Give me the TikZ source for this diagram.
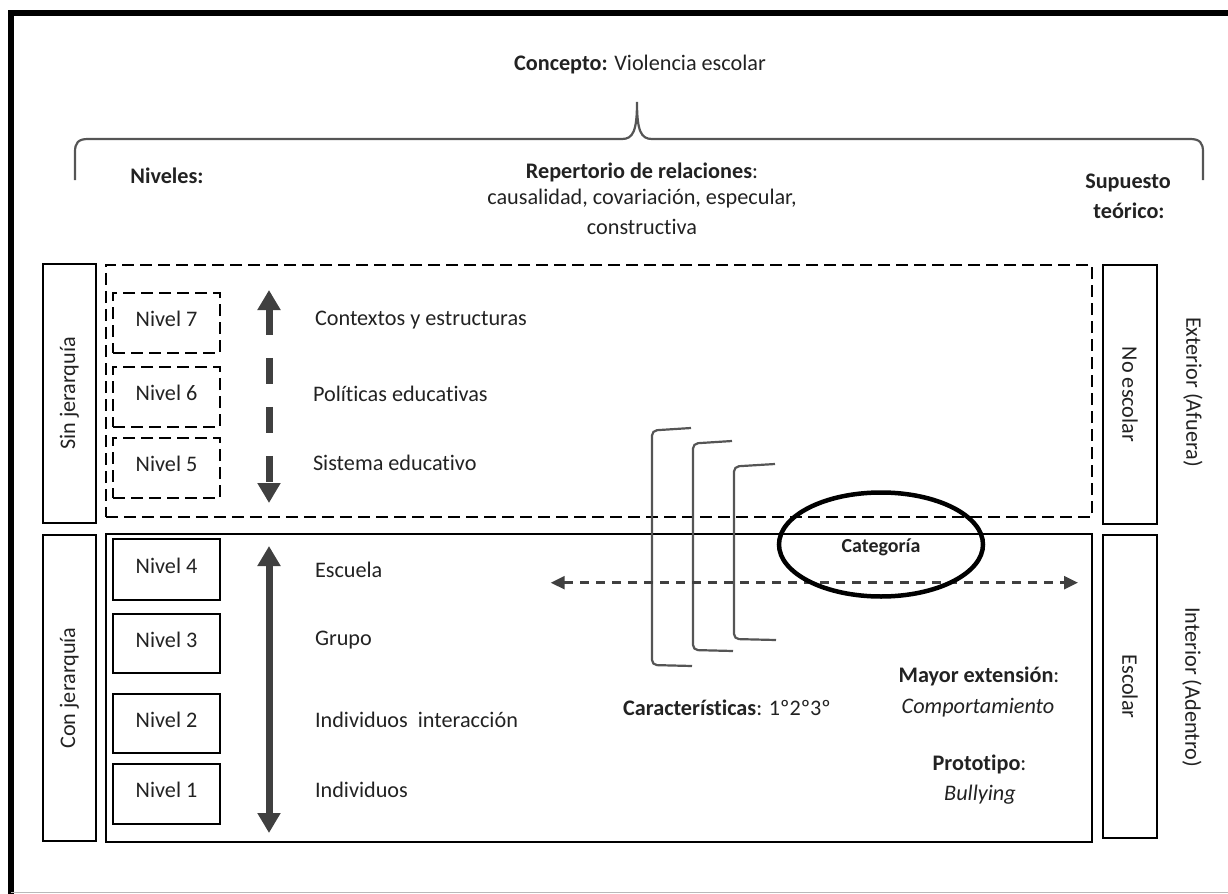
\documentclass[tikz,border=0pt]{standalone}
\usepackage{fontspec}
\setmainfont{Carlito}[Ligatures=NoCommon]
\usetikzlibrary{arrows.meta,shapes.geometric}
\definecolor{ink}{HTML}{222222}
\definecolor{arrowgray}{HTML}{404040}
\definecolor{bracegray}{HTML}{555555}
\begin{document}
\begin{tikzpicture}[x=1bp,y=-1bp,
  every node/.style={inner sep=0pt, outer sep=0pt, text=ink, font=\fontsize{22.3}{26}\selectfont},
  box/.style={draw=black, line width=2.6bp},
  dbox/.style={draw=black, line width=2.4bp, dash pattern=on 12bp off 6bp},
  lvl/.style={minimum width=107bp, minimum height=60bp, text height=14bp, text depth=7bp},
  lbl/.style={anchor=west},
  vlbl/.style={rotate=90},
  rlbl/.style={rotate=-90},
  bigarrow/.style={draw=arrowgray, line width=7bp, {Triangle[width=22bp,length=20bp]}-{Triangle[width=22bp,length=20bp]}},
  harrow/.style={draw=arrowgray, line width=2.6bp, dash pattern=on 9bp off 7bp, {Triangle[width=13bp,length=14bp]}-{Triangle[width=13bp,length=14bp]}},
  bracket/.style={draw=bracegray, line width=2.2bp, rounded corners=5bp},
  catell/.style={draw=black, ellipse, line width=4.5bp, minimum width=204bp, minimum height=104bp}
]
\useasboundingbox (0,0) rectangle (1228,894);
% frame
\draw[black, line width=6bp] (8,13) -- (1228,13);
\draw[black, line width=6bp] (11,10) -- (11,894);
\draw[gray!55, line width=1.5bp] (11,892.5) -- (1228,892.5);

% title and brace
\node (concepto) at (640,65) {\textbf{Concepto:} Violencia escolar};
\draw[draw=bracegray, line width=2.2bp] (75,180) -- (75,152) .. controls (75,143) and (78,139) .. (88,139)
  -- (622,139) .. controls (633,139) and (637,131) .. (637,102)
  .. controls (637,131) and (641,139) .. (652,139)
  -- (1190,139) .. controls (1200,139) and (1203,143) .. (1203,152) -- (1203,180);

\node[font=\fontsize{22.3}{26}\selectfont\bfseries] (niveles) at (167,176) {Niveles:};
\node (rep1) at (642,172) {\textbf{Repertorio de relaciones}:};
\node (rep2) at (642,199) {causalidad, covariación, especular,};
\node (rep3) at (642,227) {constructiva};
\node[font=\fontsize{22.3}{26}\selectfont\bfseries] (sup1) at (1128,183) {Supuesto};
\node[font=\fontsize{22.3}{26}\selectfont\bfseries] (sup2) at (1129,211) {teórico:};

% side boxes
\node[box, minimum width=53bp, minimum height=259bp] (sinbox) at (69.3,393.5) {};
\node[vlbl] (sinlbl) at (sinbox.center) {Sin jerarquía};
\node[box, minimum width=53bp, minimum height=306bp] (conbox) at (69.3,688) {};
\node[vlbl] (conlbl) at (conbox.center) {Con jerarquía};
\node[box, minimum width=54bp, minimum height=259bp] (noesc) at (1130,394.5) {};
\node[rlbl] (noesclbl) at (noesc.center) {No escolar};
\node[box, minimum width=54bp, minimum height=303bp] (esc) at (1130,686.5) {};
\node[rlbl] (esclbl) at (esc.center) {Escolar};
\node[rlbl] (exterior) at (1193,392) {Exterior (Afuera)};
\node[rlbl] (interior) at (1192,687) {Interior (Adentro)};

% main regions
\node[dbox, minimum width=986bp, minimum height=252bp] (outer) at (599,391) {};
\node[box, minimum width=986bp, minimum height=308bp] (inner) at (599,688) {};

% level boxes
\node[dbox, lvl] (n7) at (166.5,323) {Nivel 7};
\node[dbox, lvl] (n6) at (166.5,397) {Nivel 6};
\node[dbox, lvl] (n5) at (166.5,468) {Nivel 5};
\node[box, lvl, minimum height=61bp] (n4) at (166.5,569.5) {Nivel 4};
\node[box, lvl, minimum height=59bp] (n3) at (166.5,643.5) {Nivel 3};
\node[box, lvl, minimum height=59bp] (n2) at (166.5,723.5) {Nivel 2};
\node[box, lvl] (n1) at (166.5,794) {Nivel 1};

% level labels
\node[lbl] (l7) at (315,320) {Contextos y estructuras};
\node[lbl] (l6) at (313,394) {Políticas educativas};
\node[lbl] (l5) at (313,463) {Sistema educativo};
\node[lbl] (l4) at (315,570) {Escuela};
\node[lbl] (l3) at (315,640) {Grupo};
\node[lbl] (l2) at (315,720) {Individuos~ interacción};
\node[lbl] (l1) at (315,790) {Individuos};

% vertical arrows
\coordinate (uptop) at (269,290);
\coordinate (upbot) at (269,503);
\coordinate (lotop) at (269,546);
\coordinate (lobot) at (269,833);
\draw[bigarrow, dash pattern=on 26bp off 23bp] (uptop) -- (upbot);
\draw[bigarrow] (lotop) -- (lobot);

% brackets
\draw[bracket] (691,428) -- (652,430.5) -- (652,665) -- (692,666);
\draw[bracket] (732,441) -- (693,443.5) -- (693,650) -- (733,651);
\draw[bracket] (775,464) -- (734,466.5) -- (734,639) -- (776,640);

% horizontal dashed arrow
\coordinate (hl) at (550.7,582.7);
\coordinate (hr) at (1078,582.7);
\draw[harrow] (hl) -- (hr);

% category ellipse
\node[catell] (cat) at (881,544.5) {};
\node[font=\fontsize{20}{23}\selectfont\bfseries] (catlbl) at (881,547.5) {Categoría};

% bottom texts
\node (carac) at (727,708) {\textbf{Características}: 1º2º3º};
\node (mayor) at (979,676) {\textbf{Mayor extensión}:};
\node (comp) at (978,708) {\itshape Comportamiento};
\node (proto) at (979.5,764) {\textbf{Prototipo}:};
\node (bull) at (980,795) {\itshape Bullying};
\end{tikzpicture}
\end{document}
